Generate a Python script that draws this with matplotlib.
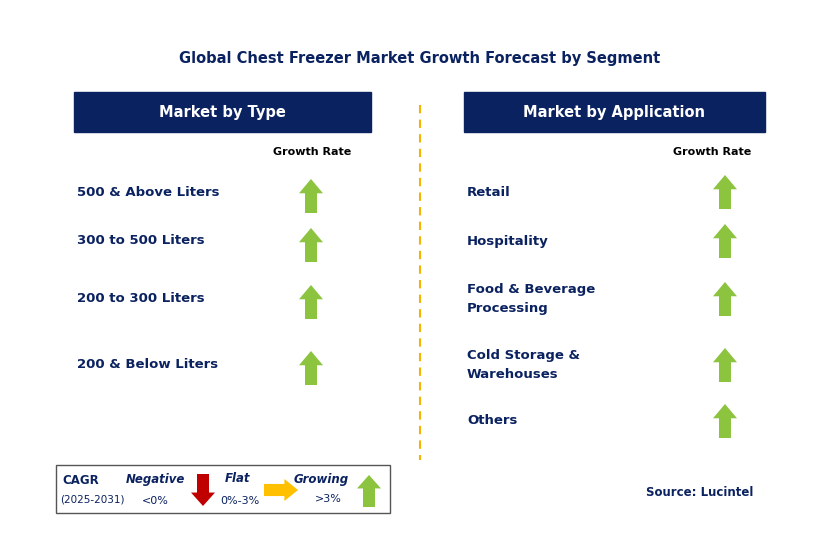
import matplotlib
matplotlib.use("Agg")
import matplotlib.pyplot as plt
from matplotlib.patches import Rectangle, Polygon

title = "Global Chest Freezer Market Growth Forecast by Segment"
type_categories = ["500 & Above Liters", "300 to 500 Liters", "200 to 300 Liters", "200 & Below Liters"]
type_growth = ["Growing", "Growing", "Growing", "Growing"]
app_categories = ["Retail", "Hospitality", "Food & Beverage\nProcessing", "Cold Storage &\nWarehouses", "Others"]
app_growth = ["Growing", "Growing", "Growing", "Growing", "Growing"]

type_y = [192, 241, 298, 364]
app_y = [192, 241, 299, 365, 421]

NAVY = "#0b2260"
GREEN = "#8cc43f"
RED = "#c00000"
YELLOW = "#ffc000"

fig = plt.figure(figsize=(8.29, 5.40), dpi=100)
ax = fig.add_axes([0, 0, 1, 1])
ax.set_xlim(0, 829)
ax.set_ylim(540, 0)
ax.axis("off")

def up_arrow(cx, cy, w=24, h=34, color=GREEN):
    top = cy - h / 2; bot = cy + h / 2; hh = h * 0.42; sw = w * 0.5
    pts = [(cx, top), (cx + w / 2, top + hh), (cx + sw / 2, top + hh), (cx + sw / 2, bot),
           (cx - sw / 2, bot), (cx - sw / 2, top + hh), (cx - w / 2, top + hh)]
    ax.add_patch(Polygon(pts, closed=True, color=color, lw=0))

def down_arrow(cx, cy, w=24, h=32, color=RED):
    top = cy - h / 2; bot = cy + h / 2; hh = h * 0.42; sw = w * 0.5
    pts = [(cx, bot), (cx + w / 2, bot - hh), (cx + sw / 2, bot - hh), (cx + sw / 2, top),
           (cx - sw / 2, top), (cx - sw / 2, bot - hh), (cx - w / 2, bot - hh)]
    ax.add_patch(Polygon(pts, closed=True, color=color, lw=0))

def right_arrow(cx, cy, w=34, h=22, color=YELLOW):
    l = cx - w / 2; r = cx + w / 2; hw = w * 0.4; sh = h * 0.55
    pts = [(r, cy), (r - hw, cy - h / 2), (r - hw, cy - sh / 2), (l, cy - sh / 2),
           (l, cy + sh / 2), (r - hw, cy + sh / 2), (r - hw, cy + h / 2)]
    ax.add_patch(Polygon(pts, closed=True, color=color, lw=0))

ax.text(420, 58, title, ha="center", va="center", fontsize=10.5, fontweight="bold", color=NAVY)

for x0, wdt, label in [(74, 297, "Market by Type"), (464, 301, "Market by Application")]:
    ax.add_patch(Rectangle((x0, 92), wdt, 40, color=NAVY))
    ax.text(x0 + wdt / 2, 112, label, ha="center", va="center",
            fontsize=10.5, fontweight="bold", color="white")

ax.plot([420, 420], [105, 460], ls=(0, (4, 3)), color="#f5b400", lw=1.5)

ax.text(312, 152, "Growth Rate", ha="center", va="center", fontsize=8, fontweight="bold", color="black")
ax.text(712, 152, "Growth Rate", ha="center", va="center", fontsize=8, fontweight="bold", color="black")

for cat, g, y in zip(type_categories, type_growth, type_y):
    ax.text(77, y, cat, ha="left", va="center", fontsize=9.5, fontweight="bold", color=NAVY)
    up_arrow(311, y + 4)
for cat, g, y in zip(app_categories, app_growth, app_y):
    ax.text(467, y, cat, ha="left", va="center", fontsize=9.5, fontweight="bold", color=NAVY, linespacing=1.6)
    up_arrow(725, y)

ax.add_patch(Rectangle((56, 465), 334, 48, fill=False, ec="#555555", lw=1))
ax.text(62, 481, "CAGR", fontsize=8.5, fontweight="bold", color=NAVY, va="center")
ax.text(60, 499, "(2025-2031)", fontsize=7.5, color=NAVY, va="center")
ax.text(155, 479, "Negative", fontsize=8.5, fontweight="bold", style="italic", color=NAVY, ha="center", va="center")
ax.text(155, 501, "<0%", fontsize=8, color=NAVY, ha="center", va="center")
down_arrow(203, 490)
ax.text(238, 479, "Flat", fontsize=8.5, fontweight="bold", style="italic", color=NAVY, ha="center", va="center")
ax.text(240, 501, "0%-3%", fontsize=8, color=NAVY, ha="center", va="center")
right_arrow(281, 490)
ax.text(321, 479, "Growing", fontsize=8.5, fontweight="bold", style="italic", color=NAVY, ha="center", va="center")
ax.text(328, 499, ">3%", fontsize=8, color=NAVY, ha="center", va="center")
up_arrow(369, 491, w=24, h=32)

ax.text(700, 492, "Source: Lucintel", ha="center", va="center", fontsize=8.5, fontweight="bold", color=NAVY)

fig.savefig("out.png", dpi=100)
